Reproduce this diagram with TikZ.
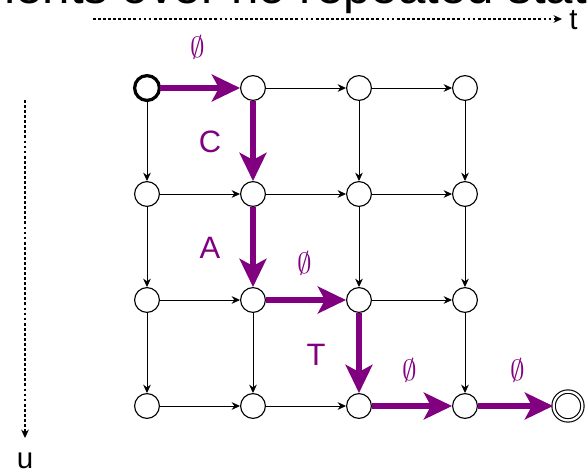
\documentclass[tikz,border=0pt]{standalone}
\usepackage{fontspec}
\setmainfont{Liberation Sans}
\usetikzlibrary{arrows.meta}
\definecolor{pathpurple}{HTML}{800080}
\tikzset{
  state/.style={circle,draw,line width=.8pt,minimum size=.62cm,inner sep=0pt,fill=white},
  start state/.style={state,line width=2.3pt},
  grid edge/.style={line width=.7pt,-{Stealth[length=6pt,width=5.5pt]}},
  path edge/.style={pathpurple,line width=4.2pt,-{Stealth[length=20pt,width=19pt,inset=5pt]}},
  path label/.style={text=pathpurple,font=\fontsize{22}{24}\selectfont},
  empty label/.style={text=pathpurple,font=\fontsize{20}{22}\selectfont},
  axis/.style={line width=.8pt,dash pattern=on 2pt off 1.6pt,-{Stealth[length=6pt,width=5.5pt]}},
  axis label/.style={font=\fontsize{21}{22}\selectfont}
}

\begin{document}
\begin{tikzpicture}[x=0.025cm,y=-0.025cm,line cap=butt,line join=miter]
  \useasboundingbox (0,0) rectangle (587,475);

  % heading line running off the top
  \node[anchor=base west,inner sep=0pt,font=\fontsize{35}{35}\selectfont] (title) at (-26,3) {ments over no repeated states};

  % time and position axes
  \coordinate (t0) at (93,19);
  \coordinate (t1) at (562,19);
  \coordinate (u0) at (25,100);
  \coordinate (u1) at (25,438);
  \draw[axis] (t0) -- (t1);
  \draw[axis] (u0) -- (u1);
  \node[axis label,anchor=west,inner sep=0pt] (tlab) at (569,20) {t};
  \node[axis label] (ulab) at (25,461) {u};

  % states
  \foreach \i in {0,...,3} {
    \foreach \j in {0,...,3} {
      \node[state] (n\i\j) at ({147+106*\j},{88+106*\i}) {};
    }
  }
  \node[start state] at (n00) {};
  \node[state,double,double distance=1.6pt,minimum size=.72cm] (final) at (568,406) {};

  % plain moves
  \foreach \a/\b in {n01/n02,n02/n03,n10/n11,n11/n12,n12/n13,n20/n21,n22/n23,n30/n31,n31/n32,
                     n00/n10,n10/n20,n20/n30,n02/n12,n12/n22,n03/n13,n13/n23,n23/n33,n21/n31}
    \draw[grid edge] (\a) -- (\b);

  % best path
  \draw[path edge] (n00) -- (n01);
  \draw[path edge] (n01) -- (n11);
  \draw[path edge] (n11) -- (n21);
  \draw[path edge] (n21) -- (n22);
  \draw[path edge] (n22) -- (n32);
  \draw[path edge] (n32) -- (n33);
  \draw[path edge] (n33) -- (final);

  \node[empty label] (e1) at (198,47) {$\emptyset$};
  \node[path label] (lC) at (210,142) {C};
  \node[path label] (lA) at (210,248) {A};
  \node[empty label] (e2) at (305,263) {$\emptyset$};
  \node[path label] (lT) at (316,355) {T};
  \node[empty label] (e3) at (410,370) {$\emptyset$};
  \node[empty label] (e4) at (518,370) {$\emptyset$};
\end{tikzpicture}
\end{document}
